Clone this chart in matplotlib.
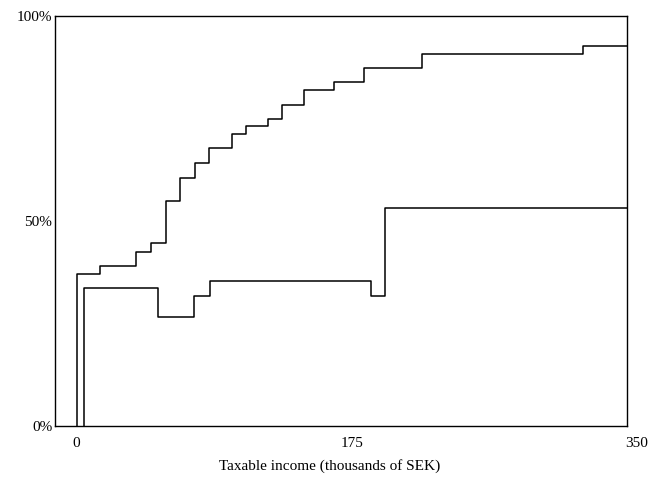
import matplotlib
matplotlib.use("Agg")
import matplotlib.pyplot as plt
import matplotlib.transforms as mtransforms

# Upper step series (thousands of SEK, percent)
upper_x = [0.4, 0.4, 14.8, 38.1, 47.5, 57.0, 66.1, 75.2, 84.5, 98.9, 108.0,
           121.8, 130.7, 144.9, 164.0, 183.0, 219.7, 322.2, 350.0]
upper_y = [0.0, 37.1, 39.0, 42.5, 44.6, 55.0, 60.4, 64.1, 67.7, 71.1, 73.1,
           74.8, 78.4, 82.0, 83.8, 87.4, 90.8, 92.7, 92.7]

# Lower step series
lower_x = [5.1, 5.1, 52.1, 75.0, 84.7, 187.3, 196.4, 350.0]
lower_y = [0.0, 33.6, 26.7, 31.7, 35.4, 31.7, 53.1, 53.1]

x_ticks = [0, 175, 350]
x_tick_labels = ["0", "175", "350"]
y_ticks = [0, 50, 100]
y_tick_labels = ["0%", "50%", "100%"]

plt.rcParams['font.family'] = ['Liberation Serif', 'DejaVu Serif']

fig = plt.figure(figsize=(6.55, 4.91), dpi=100)
ax = fig.add_axes([55/655, 1 - 426/491, (627 - 55)/655, (426 - 16)/491])

ax.step(upper_x, upper_y, where='post', color='black', linewidth=1.1)
ax.step(lower_x, lower_y, where='post', color='black', linewidth=1.1)

ax.set_xlim(-13.5, 350)
ax.set_ylim(0, 100)

ax.set_xticks(x_ticks)
ax.set_xticklabels(x_tick_labels, fontsize=11)
ax.set_yticks(y_ticks)
ax.set_yticklabels(y_tick_labels, fontsize=11)
ax.tick_params(axis='x', length=0, pad=8)
ax.tick_params(axis='y', length=0, pad=2)

# nudge the last x tick label slightly right as in the reference
lbl = ax.get_xticklabels()[-1]
lbl.set_transform(lbl.get_transform() + mtransforms.ScaledTranslation(10/100, 0, fig.dpi_scale_trans))

for s in ax.spines.values():
    s.set_linewidth(1.0)
    s.set_color('black')

ax.set_xlabel("Taxable income (thousands of SEK)", fontsize=11, labelpad=8)
ax.xaxis.set_label_coords(0.48, -0.08)

fig.savefig("out.png", dpi=100)
